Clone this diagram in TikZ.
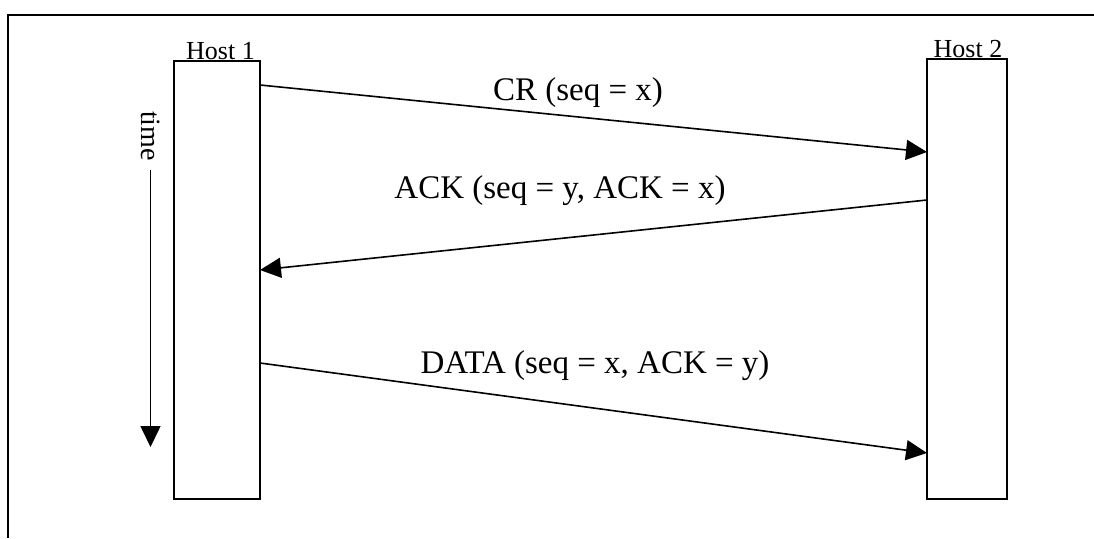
\documentclass[tikz,border=0pt]{standalone}
\usepackage{fontspec}
\setmainfont{Liberation Serif}
\usetikzlibrary{arrows.meta,calc}
\begin{document}
\begin{tikzpicture}[x=1pt,y=-1pt,
  hostbox/.style={draw,line width=1.7pt,inner sep=0pt,outer sep=0pt,anchor=north west},
  msg/.style={line width=1.6pt,-{Triangle[length=21pt,width=20pt]}},
  lbl/.style={font=\fontsize{33}{33}\selectfont,inner sep=0pt,anchor=base},
  hostlbl/.style={font=\fontsize{26}{26}\selectfont,inner sep=0pt,anchor=base}]
  \useasboundingbox (0,0) rectangle (1094,538);
  % outer frame (open at right and bottom)
  \draw[line width=2pt] (8,538) -- (8,15) -- (1094,15);

  % the two hosts
  \node[hostbox,minimum width=86pt,minimum height=438pt] (h1) at (174,61) {};
  \node[hostbox,minimum width=80pt,minimum height=440pt] (h2) at (927,59) {};
  \node[hostlbl] (h1lbl) at (220.5,59.5) {Host 1};
  \node[hostlbl] (h2lbl) at (968,57) {Host 2};

  % message end points on the host boxes
  \coordinate (m1a) at (260,85);
  \coordinate (m1b) at (927,152);
  \coordinate (m2a) at (927,200);
  \coordinate (m2b) at (260,270);
  \coordinate (m3a) at (260,363);
  \coordinate (m3b) at (927,453);

  \draw[msg] (m1a) -- (m1b);
  \draw[msg] (m2a) -- (m2b);
  \draw[msg] (m3a) -- (m3b);

  \node[lbl] (l1) at (578,100) {CR (seq = x)};
  \node[lbl] (l2) at (560,198) {ACK (seq = y, ACK = x)};
  \node[lbl] (l3) at (595,373) {DATA (seq = x, ACK = y)};

  % time axis
  \node[lbl,font=\fontsize{28}{28}\selectfont,anchor=center,rotate=-90] (time) at (151,136) {time};
  \coordinate (tstart) at (150.5,170);
  \coordinate (tend) at (150.5,447);
  \draw[msg] (tstart) -- (tend);
\end{tikzpicture}
\end{document}
